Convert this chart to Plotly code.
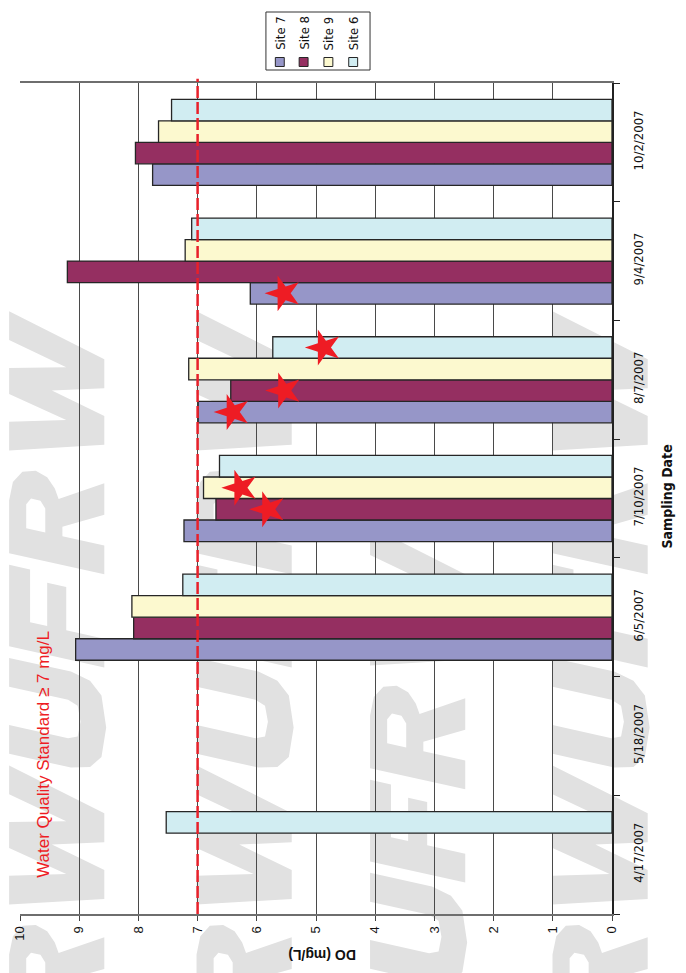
import plotly.graph_objects as go

# ---- data -------------------------------------------------------------
dates = ["4/17/2007", "5/18/2007", "6/5/2007", "7/10/2007", "8/7/2007", "9/4/2007", "10/2/2007"]
sites = ["Site 7", "Site 8", "Site 9", "Site 6"]
site7 = [None, None, 9.06, 7.23, 6.99, 6.11, 7.76]
site8 = [None, None, 8.08, 6.69, 6.44, 9.20, 8.05]
site9 = [None, None, 8.11, 6.90, 7.15, 7.21, 7.66]
site6 = [7.53, None, 7.25, 6.63, 5.73, 7.10, 7.44]
site_colors = ["#9696c8", "#952f61", "#fcf9cf", "#d1edf2"]

# samples flagged below the standard (star markers drawn just inside the bar end)
star_dates = ["7/10/2007", "7/10/2007", "8/7/2007", "8/7/2007", "8/7/2007", "9/4/2007"]
star_sites = ["Site 8", "Site 9", "Site 7", "Site 8", "Site 6", "Site 7"]
star_do = [5.81, 6.28, 6.41, 5.54, 4.87, 5.55]

standard = 7
value_ticks = list(range(0, 11))

# ---- geometry of the page --------------------------------------------
W, H = 686, 973
ML, MR, MT, MB = 15, 74, 83, 59
PW, PH = W - ML - MR, H - MT - MB
BARGAP = 0.275

NARROW = "Liberation Sans Narrow, Arial Narrow, DejaVu Sans Condensed, Liberation Sans, Arial"


def paper(px, py):
    return (px - ML) / PW, (MT + PH - py) / PH


fig = go.Figure()

series = [site7, site8, site9, site6]
idx = list(range(len(dates)))
for name, vals, col in zip(sites, series, site_colors):
    fig.add_trace(go.Bar(
        y=idx, x=vals, name=name, orientation="h",
        marker=dict(color=col, line=dict(color="#262626", width=1.3)),
        showlegend=False,
    ))

# stars placed on the matching bar slot inside each date group
slot = (1 - BARGAP) / len(sites)
star_y = [dates.index(d) + (sites.index(s) - (len(sites) - 1) / 2) * slot
          for d, s in zip(star_dates, star_sites)]
fig.add_trace(go.Scatter(
    x=star_do, y=star_y, mode="markers", showlegend=False,
    marker=dict(symbol="star", size=27, angle=-90, color="#ee1c24",
                line=dict(width=0)),
))

# water quality standard line
fig.add_shape(type="line", xref="x", yref="paper", x0=standard, x1=standard,
              y0=0, y1=1.005, line=dict(color="#e8202a", width=2.5, dash="12px,4px"),
              layer="above")

# ---- watermark letters (bold italic block glyphs, rotated) -------------
GLYPHS = {
    "U": (1.0, [[(0, 1), (0, 0.35), (0.05, 0.15), (0.18, 0.03), (0.5, -0.02), (0.82, 0.03),
                 (0.95, 0.15), (1.0, 0.35), (1.0, 1), (0.7, 1), (0.7, 0.38), (0.66, 0.28),
                 (0.5, 0.25), (0.34, 0.28), (0.3, 0.38), (0.3, 1)]]),
    "F": (0.85, [[(0, 0), (0, 1), (0.85, 1), (0.85, 0.78), (0.3, 0.78), (0.3, 0.6),
                  (0.75, 0.6), (0.75, 0.4), (0.3, 0.4), (0.3, 0)]]),
    "R": (0.95, [[(0, 0), (0, 1), (0.55, 1), (0.75, 0.96), (0.88, 0.86), (0.92, 0.72),
                  (0.88, 0.6), (0.78, 0.52), (0.68, 0.48), (0.95, 0), (0.62, 0), (0.4, 0.44),
                  (0.3, 0.44), (0.3, 0)],
                 [(0.3, 0.62), (0.55, 0.62), (0.62, 0.67), (0.62, 0.77), (0.55, 0.82),
                  (0.3, 0.82)]]),
    "W": (1.45, [[(0, 1), (0.28, 0), (0.58, 0), (0.725, 0.55), (0.87, 0), (1.17, 0),
                  (1.45, 1), (1.15, 1), (1.0, 0.4), (0.86, 1), (0.59, 1), (0.45, 0.4),
                  (0.3, 1)]]),
}
SLANT = 0.22
CAP = 96
SPACING = 0.12


def word_paths(text, x_base, y_start):
    paths = []
    u0 = 0.0
    for ch in text:
        width, contours = GLYPHS[ch]
        d = ""
        for contour in contours:
            pts = []
            for u, v in contour:
                uu = u0 + u + SLANT * v
                px = x_base - v * CAP
                py = y_start - uu * CAP
                xp, yp = paper(px, py)
                pts.append(f"{xp:.4f},{yp:.4f}")
            d += "M" + " L".join(pts) + " Z "
        paths.append(d)
        u0 += width + SPACING
    return paths, u0 * CAP


word = "UFRW"
_, word_len = word_paths(word, 0, 0)
columns = [(100, 775, 2), (289, 775, 2), (464, 990, 1), (648, 775, 2)]
for xb, ys, n in columns:
    for k in range(n):
        ps, _ = word_paths(word, xb, ys + k * word_len)
        for p in ps:
            fig.add_shape(type="path", xref="paper", yref="paper", path=p,
                          fillcolor="#e1e1e1", line=dict(width=0), layer="below")

# ---- legend drawn as rotated labels ------------------------------------
lx0, ly0 = paper(263, 70)
lx1, ly1 = paper(368, 12)
fig.add_shape(type="rect", xref="paper", yref="paper", x0=lx0, y0=ly0, x1=lx1, y1=ly1,
              line=dict(color="#333333", width=1), fillcolor="white")
legend_x = [277, 301, 326, 351]
for name, col, cx in zip(sites, site_colors, legend_x):
    a0, b0 = paper(cx - 4.5, 66.5)
    a1, b1 = paper(cx + 4.5, 57.5)
    fig.add_shape(type="rect", xref="paper", yref="paper", x0=a0, y0=b0, x1=a1, y1=b1,
                  line=dict(color="#262626", width=1), fillcolor=col)
    tx, ty = paper(cx, 33)
    fig.add_annotation(x=tx, y=ty, xref="paper", yref="paper", text=name, textangle=-90,
                       showarrow=False, xanchor="center", yanchor="middle",
                       font=dict(family=NARROW, size=13, color="#111111"))

# ---- text -------------------------------------------------------------
tx, ty = paper(38, 754)
fig.add_annotation(x=tx, y=ty, xref="paper", yref="paper",
                   text="Water Quality Standard \u2265 7 mg/L", textangle=-90,
                   showarrow=False, xanchor="center", yanchor="middle",
                   font=dict(family="Liberation Sans, Arial", size=17, color="#ee1c24"))
tx, ty = paper(319, 955)
fig.add_annotation(x=tx, y=ty, xref="paper", yref="paper", text="<b>DO (mg/L)</b>",
                   textangle=180, showarrow=False, xanchor="center", yanchor="middle",
                   font=dict(family="Liberation Sans, Arial", size=14, color="#111111"))
tx, ty = paper(667, 497)
fig.add_annotation(x=tx, y=ty, xref="paper", yref="paper", text="<b>Sampling Date</b>",
                   textangle=-90, showarrow=False, xanchor="center", yanchor="middle",
                   font=dict(family=NARROW, size=14, color="#111111"))

fig.update_layout(
    width=W, height=H,
    margin=dict(l=ML, r=MR, t=MT, b=MB, pad=0),
    paper_bgcolor="white", plot_bgcolor="rgba(0,0,0,0)",
    barmode="group", bargap=BARGAP, bargroupgap=0,
    showlegend=False,
    xaxis=dict(
        range=[10, 0], tickvals=value_ticks, ticktext=[str(v) for v in value_ticks],
        tickangle=-90, ticks="outside", ticklen=5, tickcolor="#444444",
        showgrid=True, gridcolor="#4a4a4a", gridwidth=1, zeroline=False,
        showline=True, linecolor="#6e6e6e", linewidth=2, mirror=True,
        tickfont=dict(family="Liberation Sans, Arial", size=13, color="#111111"),
        fixedrange=True,
    ),
    yaxis=dict(
        range=[-0.5, len(dates) - 0.5], side="right",
        tickvals=idx, ticktext=dates, tickangle=-90, ticks="",
        ticklabelstandoff=14,
        minor=dict(tickmode="array", tickvals=[i - 0.5 for i in range(len(dates) + 1)],
                   ticks="outside", ticklen=6, tickcolor="#222222", showgrid=False),
        showgrid=False, zeroline=False,
        showline=True, linecolor="#222222", linewidth=1.5,
        tickfont=dict(family=NARROW, size=13, color="#111111"),
        fixedrange=True,
    ),
)

fig.write_html("out.html")
